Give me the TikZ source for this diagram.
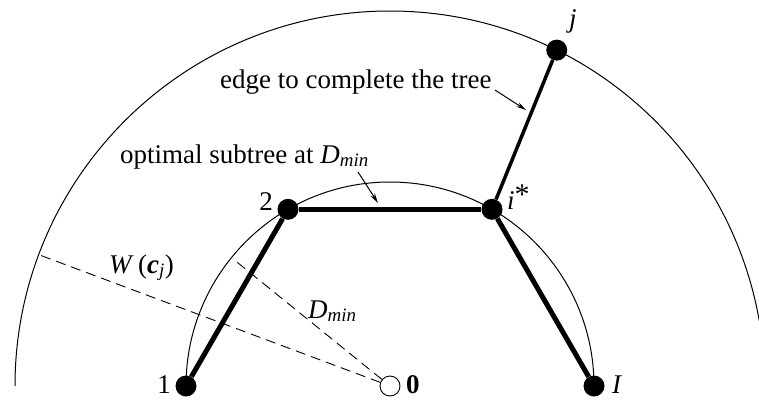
\documentclass[tikz,border=0pt]{standalone}
\usepackage{fontspec}
\setmainfont{Liberation Serif}
\usetikzlibrary{arrows.meta}
\begin{document}
\begin{tikzpicture}[x=1pt,y=1pt,
  dot/.style={circle,fill=black,inner sep=0pt,minimum size=21pt},
  odot/.style={circle,draw=black,fill=white,line width=0.9pt,inner sep=0pt,minimum size=20pt},
  thinarc/.style={line width=1pt},
  treeedge/.style={line width=5pt},
  addedge/.style={line width=3.5pt},
  dashline/.style={line width=0.9pt,dash pattern=on 10pt off 6pt},
  lbl/.style={font=\fontsize{27}{32}\selectfont, inner sep=0pt},
  pointer/.style={line width=1pt,-{Stealth[length=10pt,width=5pt]}}
]
\useasboundingbox (0,0) rectangle (759,400);
\coordinate (O) at (390,14);
% arcs
\draw[thinarc] ([shift={(180:375)}]O) arc[start angle=180,end angle=10,radius=375];
\draw[thinarc] ([shift={(180:204)}]O) arc[start angle=180,end angle=0,radius=204];
% nodes
\node[odot] (zero) at (O) {};
\node[dot] (n1) at ([shift={(180:204)}]O) {};
\node[dot] (n2) at ([shift={(120:204)}]O) {};
\node[dot] (ni) at ([shift={(60:204)}]O) {};
\node[dot] (nI) at ([shift={(0:204)}]O) {};
\node[dot] (nj) at ([shift={(63.6:375)}]O) {};
% dashed radii
\coordinate (wend) at ([shift={(159.5:375)}]O);
\coordinate (dend) at ([shift={(141:202)}]O);
\draw[dashline] (zero) -- (wend);
\draw[dashline] (zero) -- (dend);
% tree edges
\draw[treeedge] (n1) -- (n2);
\draw[treeedge] (n2) -- (ni);
\draw[treeedge] (ni) -- (nI);
\draw[addedge] (ni) -- (nj);
% labels
\node[lbl,anchor=base east] (l1) at (171,7) {1};
\node[lbl,anchor=base east] (l2) at (273,190) {2};
\node[lbl,anchor=base west] (li) at (507,191) {\textit{i}\raisebox{5pt}{\fontsize{30}{30}\selectfont *}};
\node[lbl,anchor=base west] (lj) at (569,373) {\textit{j}};
\node[lbl,anchor=base west] (l0) at (406,7) {\textbf{0}};
\node[lbl,anchor=base west] (lI) at (612,7) {\textit{I}};
\node[lbl,anchor=base west] (lw) at (109,127) {\textit{W}\,(\textbf{\textit{c}}\textsubscript{\textit{j}})};
\node[lbl,anchor=base west] (ld) at (308,82) {\textit{D}\textsubscript{\textit{min}}};
\node[lbl,anchor=base west] (lopt) at (120,237) {optimal subtree at \textit{D}\textsubscript{\textit{min}}};
\node[lbl,anchor=base west] (ledge) at (220,312) {edge to complete the tree};
% pointers
\coordinate (p1s) at (358,228);
\coordinate (p1e) at (378,197);
\coordinate (p2s) at (495,310);
\coordinate (p2e) at (526,290);
\draw[pointer] (p1s) -- (p1e);
\draw[pointer] (p2s) -- (p2e);
\end{tikzpicture}
\end{document}
